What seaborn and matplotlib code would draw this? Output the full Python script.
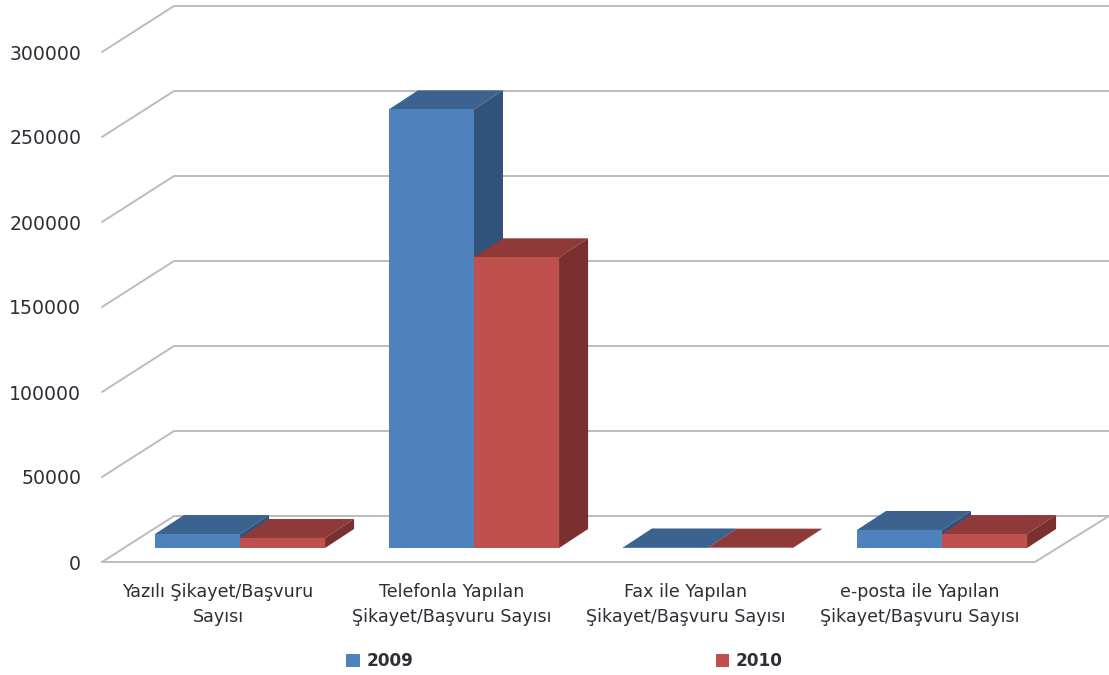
import pandas as pd
import matplotlib.pyplot as plt
import matplotlib.transforms as mtrans
from matplotlib.patches import Polygon
import seaborn as sns

# 3D looking grouped columns, Excel style: complaints per channel, 2009 vs 2010

categories = ['Yazılı Şikayet/Başvuru\nSayısı',
              'Telefonla Yapılan\nŞikayet/Başvuru Sayısı',
              'Fax ile Yapılan\nŞikayet/Başvuru Sayısı',
              'e-posta ile Yapılan\nŞikayet/Başvuru Sayısı']
values_2009 = [8200, 258000, 300, 10600]
values_2010 = [5900, 171000, 200, 8200]
y_ticks = [0, 50000, 100000, 150000, 200000, 250000, 300000]

front_colors = {'2009': '#4f81bd', '2010': '#c0504d'}
top_colors = {'2009': '#3c6290', '2010': '#8f3a38'}
side_colors = {'2009': '#31527a', '2010': '#7a302e'}
grid_color = '#bcbcbc'
text_color = '#2e2e36'

W, H = 1109, 675
df = pd.DataFrame({
    'kategori': categories * 2,
    'deger': values_2009 + values_2010,
    'yil': ['2009'] * 4 + ['2010'] * 4,
})

sns.set_style('white')
plt.rcParams['font.family'] = ['DejaVu Sans']
fig = plt.figure(figsize=(W / 100, H / 100), dpi=100)
# axes box is the front wall: x 102..1035 px, y=0 at 548 px, 300000 at 38 px
ax = fig.add_axes([102 / W, 1 - 548 / H, 933 / W, 510 / H])
sns.barplot(data=df, x='kategori', y='deger', hue='yil', hue_order=['2009', '2010'],
            palette=front_colors, saturation=1, width=0.727, gap=0, linewidth=0, ax=ax)

# keep group centres over the 3D bars, not the wall
step = 234
ax.set_xlim((102 - 240) / step, (1035 - 240) / step)
ax.set_ylim(0, 300000)
sns.despine(ax=ax, left=True, bottom=True)
ax.patch.set_alpha(0)
ax.set_xlabel('')
ax.set_ylabel('')

px_x = 1 / step
px_y = 300000 / 510

# grid on the back wall + floor
left = ax.get_xlim()[0]
drop = 14 * px_y
back_dx, back_dy = 72 * px_x, 46 * px_y
far_right = left + (1109 - 102) * px_x
for v in y_ticks:
    ax.plot([left, left + back_dx, far_right],
            [v - drop, v - drop + back_dy, v - drop + back_dy],
            color=grid_color, lw=1.4, clip_on=False, zorder=1, solid_joinstyle='miter')
ax.plot([left, ax.get_xlim()[1], far_right],
        [-drop, -drop, -drop + back_dy],
        color=grid_color, lw=1.4, clip_on=False, zorder=1)

# fake the depth from the real bars
dep_x, dep_y = 29 * px_x, 19 * px_y
for i, (year, cont) in enumerate(zip(['2009', '2010'], ax.containers)):
    for bar in cont:
        x0, x1 = bar.get_x(), bar.get_x() + bar.get_width()
        h = bar.get_height()
        bar.set_zorder(3 + i * 2)
        ax.add_patch(Polygon([(x0, h), (x1, h), (x1 + dep_x, h + dep_y), (x0 + dep_x, h + dep_y)],
                             facecolor=top_colors[year], edgecolor='none', clip_on=False, zorder=2 + i * 2))
        ax.add_patch(Polygon([(x1, 0), (x1 + dep_x, dep_y), (x1 + dep_x, h + dep_y), (x1, h)],
                             facecolor=side_colors[year], edgecolor='none', clip_on=False, zorder=2 + i * 2))

ax.set_yticks(y_ticks)
ax.set_yticklabels([str(v) for v in y_ticks])
ax.tick_params(axis='y', length=0, pad=15, labelsize=13.6, labelcolor=text_color)
ax.tick_params(axis='x', length=0, pad=25, labelsize=12.6, labelcolor=text_color)

# labels sit on the front wall, so shift them off the bars
y_shift = mtrans.ScaledTranslation(0, -14 / 100, fig.dpi_scale_trans)
x_shift = mtrans.ScaledTranslation(-22 / 100, 0, fig.dpi_scale_trans)
for lab in ax.get_yticklabels():
    lab.set_transform(lab.get_transform() + y_shift)
for lab in ax.get_xticklabels():
    lab.set_transform(lab.get_transform() + x_shift)
    lab.set_linespacing(1.5)

handles, labels = ax.get_legend_handles_labels()
leg = ax.legend(handles, labels, ncols=2, frameon=False, loc='center left',
                bbox_to_anchor=(346 / W, 1 - 661 / H), bbox_transform=fig.transFigure,
                prop={'weight': 'bold', 'size': 12.2}, labelcolor=text_color,
                handlelength=0.8, handleheight=0.8, handletextpad=0.4,
                columnspacing=17.85, borderpad=0, borderaxespad=0)

fig.savefig('out.png', dpi=100, facecolor='white')
